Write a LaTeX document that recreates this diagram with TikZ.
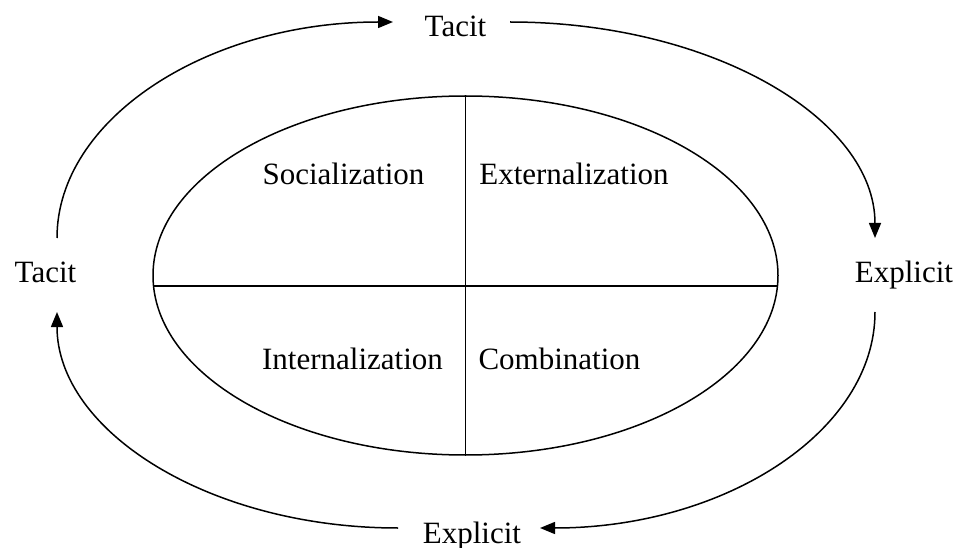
\documentclass[tikz,border=0pt]{standalone}
\usepackage{fontspec}
\setmainfont{Liberation Serif}
\usetikzlibrary{arrows.meta,shapes.geometric}
\begin{document}
\begin{tikzpicture}[x=1pt,y=1pt,
  thinline/.style={line width=1.5pt},
  cyclearrow/.style={line width=1.5pt,-{Triangle[length=15pt,width=12pt]}},
  lbl/.style={font=\fontsize{31}{37}\selectfont, anchor=base, inner sep=0pt}]
\useasboundingbox (0,0) rectangle (959,-548);
% central ellipse
\node[draw, ellipse, line width=1.5pt, minimum width=625pt, minimum height=359pt,
      inner sep=0pt, outer sep=0pt] (E) at (465.5,-275.5) {};
\coordinate (hl) at (153.5,-286);
\coordinate (hr) at (777.5,-286);
\draw[thinline] (hl) -- (hr);
\draw[thinline] (E.north) -- (E.south);
% labels
\node[lbl] (tTop) at (455.5,-37) {Tacit};
\node[lbl] (tLeft) at (45.5,-283) {Tacit};
\node[lbl] (eRight) at (904,-283) {Explicit};
\node[lbl] (eBot) at (472,-543) {Explicit};
\node[lbl] (soc) at (343.5,-185) {Socialization};
\node[lbl] (ext) at (574,-185) {Externalization};
\node[lbl] (int) at (352.5,-369) {Internalization};
\node[lbl] (com) at (559.5,-369) {Combination};
% arc end points
\coordinate (a1) at (57,-238);
\coordinate (a2) at (510,-22);
\coordinate (a3) at (875,-312);
\coordinate (a4) at (398,-528);
% cycle arrows
\draw[cyclearrow] (a1) arc[start angle=180, end angle=90, x radius=336, y radius=216];
\draw[cyclearrow] (a2) arc[start angle=90, end angle=0, x radius=365, y radius=216];
\draw[cyclearrow] (a3) arc[start angle=0, end angle=-90, x radius=335, y radius=216];
\draw[cyclearrow] (a4) arc[start angle=270, end angle=180, x radius=341, y radius=216];
\end{tikzpicture}
\end{document}
